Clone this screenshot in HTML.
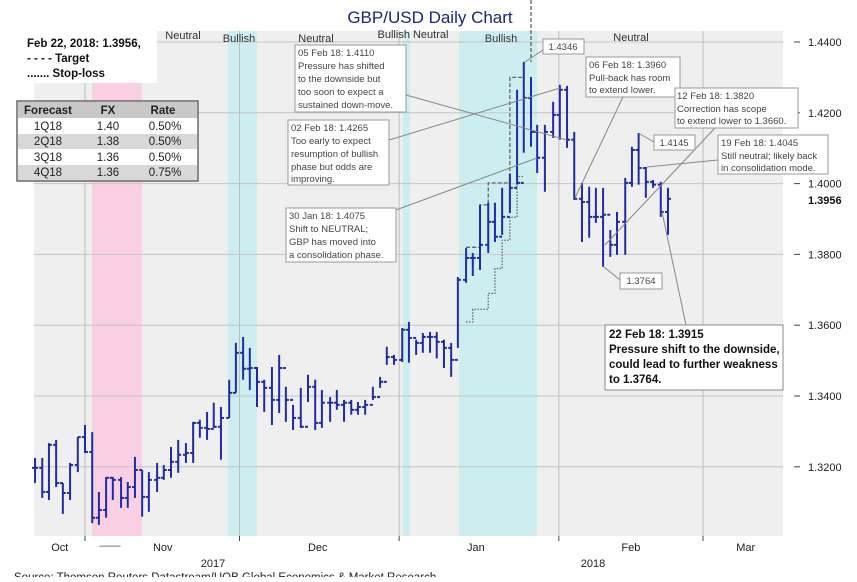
<!DOCTYPE html>
<html><head><meta charset="utf-8"><style>
body{margin:0;background:#fff;width:857px;height:577px;overflow:hidden;font-family:"Liberation Sans",sans-serif;}
svg text{font-family:"Liberation Sans",sans-serif;}
</style></head><body>
<svg id="chart" width="857" height="577" viewBox="0 0 857 577" xmlns="http://www.w3.org/2000/svg">
<g id="bg"></g>
<g id="bars"></g>
<g id="over"></g>
</svg>
<script>
const days=[21.3,22.7,24.0,25.4,26.7,28.1,29.6,31.0,32.4,33.7,35.1,36.4,38.0,39.3,40.7,42.1,43.4,45.0,46.3,47.7,49.1,50.6,52.0,53.3,54.7,56.0,57.4,59.0,60.3,61.7,63.0,64.4,65.8,67.3,68.7,70.0,71.4,72.9,74.3,75.7,77.0,78.6,79.9,81.3,82.7,84.0,85.4,86.9,88.3,89.6,91.0,92.6,93.9,95.3,96.6,98.0,99.3,100.7,102.1,103.4,105.0,106.3,107.7,109.3,110.6,112.0,113.5,114.9,116.2,117.6,118.8,120.3,121.9,123.2,124.6,126.0,127.5,128.9,130.2,131.6,133.0,134.3,135.9,137.2,138.5,139.9,141.3,142.8,144.2];
const highs=[1.3225,1.3225,1.3267,1.3276,1.3154,1.3211,1.3284,1.3318,1.3298,1.3129,1.3171,1.3171,1.3171,1.3157,1.3228,1.3191,1.3185,1.3211,1.3205,1.3256,1.3276,1.3267,1.3327,1.3333,1.3355,1.3381,1.3369,1.3446,1.3550,1.3567,1.3536,1.3482,1.3446,1.3482,1.3516,1.3426,1.3375,1.3423,1.3460,1.3446,1.3417,1.3397,1.3417,1.3389,1.3389,1.3383,1.3389,1.3426,1.3454,1.3539,1.3516,1.3592,1.3609,1.3559,1.3578,1.3581,1.3581,1.3559,1.3550,1.3736,1.3818,1.3804,1.3940,1.3946,1.3946,1.3988,1.4027,1.4265,1.4344,1.4301,1.4166,1.4166,1.4231,1.4279,1.4276,1.4146,1.4002,1.3991,1.3988,1.3988,1.3869,1.3920,1.4016,1.4104,1.4143,1.4047,1.4010,1.4005,1.3988];
const lows=[1.3154,1.3112,1.3106,1.3143,1.3067,1.3106,1.3185,1.3239,1.3041,1.3036,1.3056,1.3106,1.3084,1.3084,1.3112,1.3059,1.3073,1.3129,1.3163,1.3169,1.3183,1.3211,1.3211,1.3282,1.3276,1.3310,1.3220,1.3338,1.3409,1.3446,1.3417,1.3369,1.3355,1.3318,1.3352,1.3327,1.3304,1.3310,1.3383,1.3304,1.3310,1.3327,1.3361,1.3327,1.3347,1.3347,1.3347,1.3389,1.3423,1.3488,1.3488,1.3496,1.3494,1.3516,1.3522,1.3522,1.3506,1.3479,1.3454,1.3536,1.3720,1.3739,1.3756,1.3804,1.3835,1.3855,1.3917,1.3997,1.4087,1.4104,1.4030,1.3977,1.4129,1.4124,1.4101,1.3954,1.3835,1.3847,1.3889,1.3765,1.3793,1.3799,1.3799,1.3991,1.3997,1.3960,1.3988,1.3906,1.3855];
const closes=[1.3197,1.3129,1.3262,1.3154,1.3126,1.3205,1.3284,1.3242,1.3056,1.3078,1.3169,1.3163,1.3112,1.3143,1.3191,1.3115,1.3163,1.3169,1.3191,1.3214,1.3234,1.3239,1.3324,1.3310,1.3307,1.3313,1.3338,1.3409,1.3522,1.3477,1.3479,1.3440,1.3423,1.3389,1.3479,1.3389,1.3338,1.3313,1.3426,1.3324,1.3381,1.3381,1.3375,1.3381,1.3361,1.3369,1.3375,1.3397,1.3440,1.3510,1.3502,1.3587,1.3564,1.3550,1.3567,1.3567,1.3553,1.3536,1.3502,1.3728,1.3790,1.3790,1.3827,1.3892,1.3850,1.3906,1.3988,1.4002,1.4242,1.4146,1.4073,1.4146,1.4194,1.4265,1.4124,1.3957,1.3948,1.3906,1.3906,1.3912,1.3827,1.3892,1.4002,1.4095,1.4044,1.4005,1.3997,1.3920,1.3957];
const yTicks=[1.44,1.42,1.40,1.38,1.36,1.34,1.32];
const monthLabels=["Oct","Nov","Dec","Jan","Feb","Mar"];
const monthDays=[26.1,46.1,76.2,106.9,137,159.3];
const gridDays=[31,61,92,123,151];
const targetDays=[105,107.7,107.7,109.3,109.3,113.5,113.5,116.2];
const targetVals=[1.3820,1.3820,1.3940,1.3940,1.4002,1.4002,1.4300,1.4300];
const stopDays=[105,106.3,106.3,109.3,109.3,110.6,110.6,112,112,113.5,113.5,114.9,114.9,116.2];
const stopVals=[1.3609,1.3609,1.3645,1.3645,1.3690,1.3690,1.3760,1.3760,1.3840,1.3840,1.3905,1.3905,1.4020,1.4020];

const NS="http://www.w3.org/2000/svg";
const X=d=>85+(d-31)*5.15;
const Y=v=>42+(1.44-v)*3540;
function mk(parent,tag,attrs,text){const e=document.createElementNS(NS,tag);for(const k in attrs)e.setAttribute(k,attrs[k]);if(text!==undefined)e.textContent=text;document.getElementById(parent).appendChild(e);return e;}

let e;
e=mk('bg','rect',{x:34,y:31,width:749,height:505,fill:'#efefef'});


const bands=[[92,142,'#f9cfe4'],[228,257,'#cdeef0'],[403,410,'#cdeef0'],[459,537,'#cdeef0']];
bands.forEach(b=>{e=mk('bg','rect',{x:b[0],y:31,width:b[1]-b[0],height:505,fill:b[2]});

});
yTicks.forEach(v=>{const y=Y(v);
e=mk('bg','line',{x1:34,x2:783,y1:y,y2:y,stroke:'#c4c4c4','stroke-width':1});


e=mk('bg','line',{x1:794,x2:800,y1:y,y2:y,stroke:'#444','stroke-width':1});
e=mk('bg','text',{x:808,y:y+4,'font-size':11,fill:'#222'},v.toFixed(4));

});
gridDays.forEach(d=>{const x=X(d);
e=mk('bg','line',{x1:x,x2:x,y1:31,y2:536,stroke:'#bdbdbd','stroke-width':1});


mk('bg','line',{x1:x,x2:x,y1:536,y2:541,stroke:'#444','stroke-width':1});});
monthLabels.forEach((m,i)=>{e=mk('bg','text',{x:X(monthDays[i]),y:551,'font-size':11,fill:'#222','text-anchor':'middle'},m);

});

function pl(ds,vs,dash,name){const pts=ds.map((d,i)=>X(d)+','+Y(vs[i])).join(' ');
e=mk('bars','polyline',{points:pts,fill:'none',stroke:'#666','stroke-width':1.3,'stroke-dasharray':dash});

}
pl(targetDays,targetVals,'4,2','target-line');
pl(stopDays,stopVals,'1.5,1.5','stop-loss-line');

days.forEach((d,i)=>{const x=X(d);const op=i>0?closes[i-1]:closes[i];
e=mk('bars','line',{x1:x,x2:x,y1:Y(highs[i]),y2:Y(lows[i]),stroke:'#1f2d9e','stroke-width':2});


mk('bars','line',{x1:x-3,x2:x,y1:Y(op),y2:Y(op),stroke:'#1f2d9e','stroke-width':2});
mk('bars','line',{x1:x,x2:x+3,y1:Y(closes[i]),y2:Y(closes[i]),stroke:'#1f2d9e','stroke-width':2});});
</script>
<svg style="position:absolute;left:0;top:0" width="857" height="577" xmlns="http://www.w3.org/2000/svg">
<text x="430" y="23" font-size="17" fill="#1a2870" text-anchor="middle">GBP/USD Daily Chart</text>
<line x1="531" y1="0" x2="531" y2="62" stroke="#555" stroke-dasharray="4,2" stroke-width="1.2"/>
<g font-size="11" fill="#333">
<text x="183" y="39" text-anchor="middle">Neutral</text>
<text x="239" y="42" text-anchor="middle">Bullish</text>
<text x="316" y="42" text-anchor="middle">Neutral</text>
<text x="413" y="38" text-anchor="middle">Bullish Neutral</text>
<text x="501" y="42" text-anchor="middle">Bullish</text>
<text x="631" y="41" text-anchor="middle">Neutral</text>
</g>
<rect x="22" y="31" width="135" height="52" fill="#fff"/>
<g font-size="11.5" font-weight="bold" fill="#111">
<text x="27" y="47">Feb 22, 2018:  1.3956,</text>
<text x="27" y="62">- - - -   Target</text>
<text x="27" y="77">.......   Stop-loss</text>
</g>
<g>
<rect x="17" y="101" width="181" height="80" fill="#fff" stroke="#666" stroke-width="1.5"/>
<rect x="18" y="102" width="179" height="16" fill="#c8c8c8"/>
<rect x="18" y="134" width="179" height="15" fill="#d4d4d4" opacity="0.9"/>
<rect x="18" y="165" width="179" height="15" fill="#d4d4d4" opacity="0.9"/>
<g font-size="11.5" fill="#222" text-anchor="middle">
<text x="48" y="114" font-weight="bold">Forecast</text><text x="108" y="114" font-weight="bold">FX</text><text x="163" y="114" font-weight="bold">Rate</text>
<text x="48" y="130">1Q18</text><text x="108" y="130">1.40</text><text x="165" y="130">0.50%</text>
<text x="48" y="145">2Q18</text><text x="108" y="145">1.38</text><text x="165" y="145">0.50%</text>
<text x="48" y="161">3Q18</text><text x="108" y="161">1.36</text><text x="165" y="161">0.50%</text>
<text x="48" y="176">4Q18</text><text x="108" y="176">1.36</text><text x="165" y="176">0.75%</text>
</g></g>
<g stroke="#888" stroke-width="1" fill="none">
<line x1="406" y1="95" x2="567" y2="140"/>
<line x1="389" y1="140" x2="560" y2="88"/>
<line x1="396" y1="210" x2="537" y2="158"/>
<line x1="543" y1="50" x2="525" y2="62"/>
<line x1="623" y1="97" x2="575" y2="198"/>
<line x1="715" y1="128" x2="605" y2="245"/>
<line x1="654" y1="142" x2="640" y2="134"/>
<line x1="718" y1="160" x2="647" y2="167"/>
<line x1="620" y1="280" x2="604" y2="267"/>
<line x1="686" y1="325" x2="662" y2="212"/>
</g>
<g font-size="9.5" fill="#444">
<g><rect x="295" y="45" width="111" height="67" fill="#fff" stroke="#999"/>
<text x="298" y="56">05 Feb 18: 1.4110</text><text x="298" y="69">Pressure has shifted</text><text x="298" y="82">to the downside but</text><text x="298" y="95">too soon to expect a</text><text x="298" y="108">sustained down-move.</text></g>
<g><rect x="288" y="120" width="101" height="65" fill="#fff" stroke="#999"/>
<text x="291" y="131">02 Feb 18: 1.4265</text><text x="291" y="144">Too early to expect</text><text x="291" y="157">resumption of bullish</text><text x="291" y="170">phase but odds are</text><text x="291" y="182">improving.</text></g>
<g><rect x="286" y="208" width="110" height="54" fill="#fff" stroke="#999"/>
<text x="289" y="219">30 Jan 18:  1.4075</text><text x="289" y="232">Shift to NEUTRAL;</text><text x="289" y="245">GBP has moved into</text><text x="289" y="258">a consolidation phase.</text></g>
<g><rect x="543" y="39" width="41" height="15" fill="#fff" stroke="#999"/><text x="563" y="50" text-anchor="middle">1.4346</text></g>
<g><rect x="586" y="57" width="94" height="40" fill="#fff" stroke="#999"/>
<text x="589" y="68">06 Feb 18: 1.3960</text><text x="589" y="81">Pull-back has room</text><text x="589" y="93">to extend lower.</text></g>
<g><rect x="675" y="88" width="123" height="40" fill="#fff" stroke="#999"/>
<text x="677" y="99">12 Feb 18: 1.3820</text><text x="677" y="112">Correction has scope</text><text x="677" y="124">to extend lower to 1.3660.</text></g>
<g><rect x="654" y="135" width="41" height="15" fill="#fff" stroke="#999"/><text x="674" y="146" text-anchor="middle">1.4145</text></g>
<g><rect x="718" y="135" width="110" height="39" fill="#fff" stroke="#999"/>
<text x="721" y="146">19 Feb 18: 1.4045</text><text x="721" y="159">Still neutral; likely back</text><text x="721" y="171">in consolidation mode.</text></g>
<g><rect x="620" y="273" width="42" height="16" fill="#fff" stroke="#999"/><text x="641" y="284" text-anchor="middle">1.3764</text></g>
</g>
<g><rect x="605" y="325" width="178" height="65" fill="#fff" stroke="#888"/>
<g font-size="11.5" font-weight="bold" fill="#111"><text x="609" y="338">22 Feb 18: 1.3915</text><text x="609" y="353">Pressure shift to the downside,</text><text x="609" y="368">could lead to further weakness</text><text x="609" y="383">to 1.3764.</text></g></g>
<text x="808" y="204" font-size="11" font-weight="bold" fill="#111">1.3956</text>
<text x="99" y="549" font-size="10" fill="#555" letter-spacing="-1">---------</text>
<text x="213" y="567" font-size="11" fill="#222" text-anchor="middle">2017</text>
<text x="593" y="567" font-size="11" fill="#222" text-anchor="middle">2018</text>
<text x="14" y="581" font-size="11.5" fill="#222">Source: Thomson Reuters Datastream/UOB Global Economics &amp; Market Research</text>
</svg>
</body></html>
